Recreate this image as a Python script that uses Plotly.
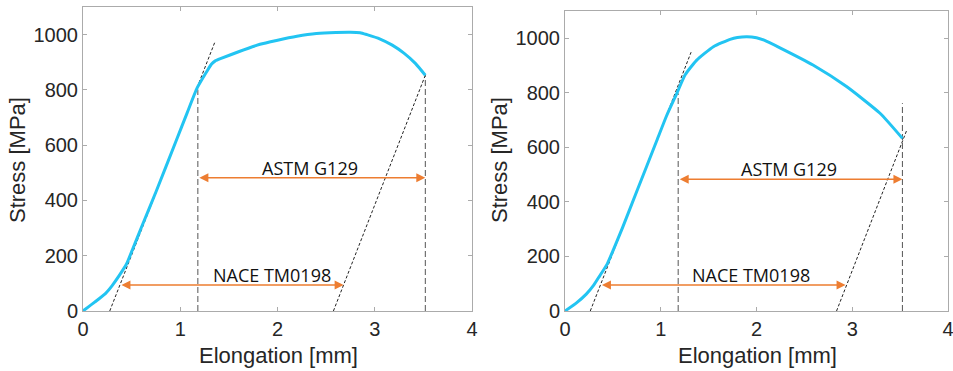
import plotly.graph_objects as go

# ---------------- data ----------------
left_x = [0, 0.12, 0.233, 0.30, 0.37, 0.45, 0.515, 0.60, 0.755, 0.96, 1.07, 1.175, 1.27, 1.32, 1.36,
          1.42, 1.60, 1.82, 1.99, 2.20, 2.40, 2.60, 2.75, 2.85, 2.92, 3.05, 3.18, 3.30, 3.42, 3.52]
left_y = [0, 32, 64, 92, 127, 172, 228, 302, 435, 618, 716, 808, 865, 893, 905,
          914, 938, 965, 979, 994, 1004, 1008, 1009, 1007, 1000, 985, 962, 933, 895, 853]

right_x = [0, 0.12, 0.222, 0.30, 0.361, 0.44, 0.507, 0.60, 0.751, 0.959, 1.06, 1.168, 1.255, 1.376,
           1.55, 1.724, 1.80, 1.90, 2.00, 2.08, 2.245, 2.59, 2.94, 3.29, 3.524]
right_y = [0, 30, 62, 95, 128, 172, 226, 305, 440, 625, 715, 798, 866, 920,
           969, 996, 1003, 1006, 1002, 993, 965, 902, 823, 725, 633]

# elastic (loading) and unloading lines: [x0, y0, x1, y1]
left_elastic = [0.275, 0, 1.356, 973]
left_unload = [2.575, 0, 3.52, 853]
right_elastic = [0.264, 0, 1.317, 949]
right_unload = [2.836, 0, 3.566, 660]

# vertical markers: (x, top y)
left_vlines = [(1.181, 801), (3.52, 853)]
right_vlines = [(1.182, 798), (3.524, 762)]

# arrows: (label, x_start, x_end, y, label_x, label_y)
left_arrows = [("ASTM G129", 1.181, 3.52, 482, 2.33, 518),
               ("NACE TM0198", 0.38, 2.68, 94, 1.94, 130)]
right_arrows = [("ASTM G129", 1.182, 3.524, 483, 2.34, 520),
                ("NACE TM0198", 0.37, 2.93, 95, 1.94, 131)]

x_ticks = [0, 1, 2, 3, 4]
y_ticks = [0, 200, 400, 600, 800, 1000]
x_title = "Elongation [mm]"
y_title = "Stress [MPa]"

# ---------------- styles ----------------
W, H = 953, 371
CURVE = "#22C4F2"
ORANGE = "#ED7D31"
TICKFONT = dict(family="Liberation Sans, Arial, sans-serif", size=20, color="#262626")
TITLEFONT = dict(family="Liberation Sans, Arial, sans-serif", size=22, color="#262626")
LBLFONT = dict(family="Open Sans, sans-serif", size=18, color="#111111")

fig = go.Figure()

panels = [
    ("x", "y", left_x, left_y, left_elastic, left_unload, left_vlines, left_arrows),
    ("x2", "y2", right_x, right_y, right_elastic, right_unload, right_vlines, right_arrows),
]

for xa, ya, cx, cy, el, ul, vls, arrs in panels:
    for ln in (el, ul):
        fig.add_trace(go.Scatter(x=[ln[0], ln[2]], y=[ln[1], ln[3]], mode="lines",
                                 line=dict(color="#222222", width=1, dash="3px,2px"),
                                 xaxis=xa, yaxis=ya, showlegend=False, hoverinfo="skip"))
    for vx, vy in vls:
        fig.add_trace(go.Scatter(x=[vx, vx], y=[0, vy], mode="lines",
                                 line=dict(color="#555555", width=1, dash="6px,3px"),
                                 xaxis=xa, yaxis=ya, showlegend=False, hoverinfo="skip"))
    fig.add_trace(go.Scatter(x=cx, y=cy, mode="lines",
                             line=dict(color=CURVE, width=3, shape="spline", smoothing=0.5),
                             xaxis=xa, yaxis=ya, showlegend=False))
    for label, xs, xe, yy, lx, ly in arrs:
        fig.add_annotation(x=xe, y=yy, ax=xs, ay=yy, xref=xa, yref=ya, axref=xa, ayref=ya,
                           text="", showarrow=True, arrowside="end+start", arrowhead=2,
                           arrowsize=1.2, arrowwidth=1.5, arrowcolor=ORANGE,
                           standoff=0, startstandoff=0)
        fig.add_annotation(x=lx, y=ly, xref=xa, yref=ya, text=label, showarrow=False,
                           font=LBLFONT, xanchor="center", yanchor="middle")

axis_common = dict(showgrid=False, zeroline=False, showline=True, linecolor="#ABABAB",
                   linewidth=1, mirror="ticks", ticks="inside", ticklen=4, tickcolor="#ABABAB",
                   tickfont=TICKFONT, automargin=False, ticklabeloverflow="allow")

fig.update_layout(
    width=W, height=H, autosize=False,
    margin=dict(l=0, r=0, t=0, b=0),
    paper_bgcolor="white", plot_bgcolor="white",
    xaxis=dict(domain=[83 / W, 472 / W], range=[0, 4], tickvals=x_ticks, anchor="y", **axis_common),
    yaxis=dict(domain=[(H - 311) / H, (H - 7) / H], range=[0, 1100], tickvals=y_ticks,
               anchor="x", **axis_common),
    xaxis2=dict(domain=[565 / W, 948 / W], range=[0, 4], tickvals=x_ticks, anchor="y2", **axis_common),
    yaxis2=dict(domain=[(H - 311) / H, (H - 11) / H], range=[0, 1100], tickvals=y_ticks,
                anchor="x2", **axis_common),
)

# axis titles
for cx_px in (278, 757):
    fig.add_annotation(x=cx_px / W, y=(H - 355) / H, xref="paper", yref="paper", text=x_title,
                       showarrow=False, font=TITLEFONT, xanchor="center", yanchor="middle")
for cx_px in (17, 499):
    fig.add_annotation(x=cx_px / W, y=(H - 160) / H, xref="paper", yref="paper", text=y_title,
                       showarrow=False, font=TITLEFONT, xanchor="center", yanchor="middle",
                       textangle=-90)

fig.write_html("out.html", config={"displayModeBar": False},
               post_script="document.body.style.margin='0px';document.body.style.overflow='hidden';")
